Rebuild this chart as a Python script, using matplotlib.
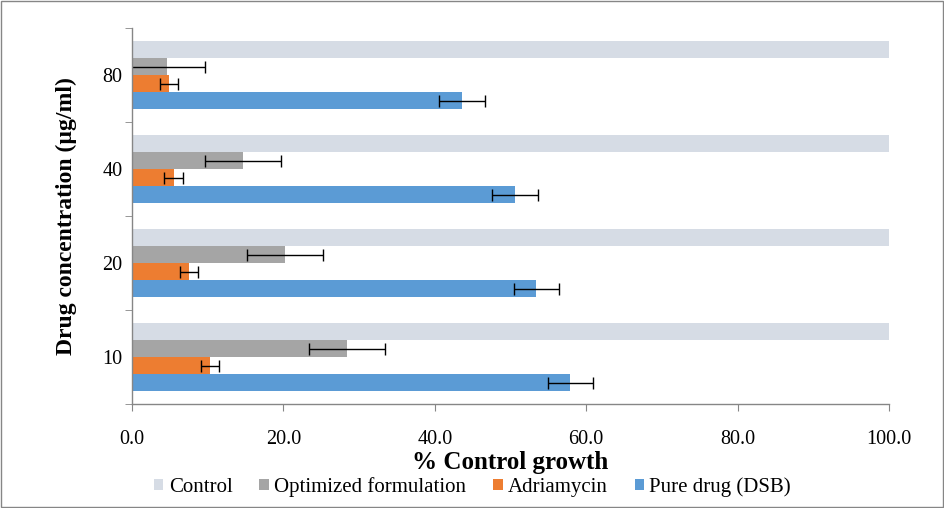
import matplotlib
matplotlib.use("Agg")
import matplotlib.pyplot as plt
import numpy as np
from matplotlib.patches import Rectangle

categories = ["10", "20", "40", "80"]
control = [100.0, 100.0, 100.0, 100.0]
optimized = [28.4, 20.2, 14.7, 4.6]
optimized_err = [5.0, 5.0, 5.0, 5.1]
adriamycin = [10.3, 7.5, 5.5, 4.9]
adriamycin_err = [1.2, 1.2, 1.25, 1.2]
pure = [57.9, 53.4, 50.6, 43.6]
pure_err = [3.0, 3.0, 3.0, 3.0]
xticks = [0, 20, 40, 60, 80, 100]

plt.rcParams['font.family'] = ['Liberation Serif', 'DejaVu Serif']

fig = plt.figure(figsize=(9.45, 5.08), dpi=100)
ax = fig.add_axes([0.1397, 0.2047, 0.801, 0.740])

y = np.arange(len(categories))
h = 0.181
err_kw = dict(ecolor='black', elinewidth=1.0, capsize=4, capthick=1.0)
ax.barh(y - 1.5*h, pure, h, xerr=pure_err, color='#5B9BD5', label='Pure drug (DSB)', error_kw=err_kw)
ax.barh(y - 0.5*h, adriamycin, h, xerr=adriamycin_err, color='#ED7D31', label='Adriamycin', error_kw=err_kw)
ax.barh(y + 0.5*h, optimized, h, xerr=optimized_err, color='#A5A5A5', label='Optimized formulation', error_kw=err_kw)
ax.barh(y + 1.5*h, control, h, color='#D6DCE5', label='Control')

ax.set_xlim(0, 100)
ax.set_ylim(-0.5, len(categories) - 0.5)
ax.set_xticks(xticks)
ax.set_xticklabels([f"{v:.1f}" for v in xticks], fontsize=14.5)
ax.set_yticks(y)
ax.set_yticklabels(categories, fontsize=14.5)
ax.set_yticks(np.arange(-0.5, len(categories), 1.0), minor=True)
ax.tick_params(axis='y', which='major', length=0, pad=7)
ax.tick_params(axis='y', which='minor', length=5, color='#868686', direction='out')
ax.tick_params(axis='x', which='major', length=5, color='#868686', direction='out', pad=14)
for s in ['top', 'right']:
    ax.spines[s].set_visible(False)
for s in ['left', 'bottom']:
    ax.spines[s].set_color('#868686')
    ax.spines[s].set_linewidth(1.0)

ax.set_xlabel('% Control growth', fontsize=18, fontweight='bold', va='top')
ax.xaxis.set_label_coords(0.5, -0.126)
ax.set_ylabel('Drug concentration (µg/ml)', fontsize=17, fontweight='bold')
ax.yaxis.set_label_coords(-0.0727, 0.5)

handles, labels = ax.get_legend_handles_labels()
order = [3, 2, 1, 0]
fig.legend([handles[i] for i in order], [labels[i] for i in order],
           loc='center', bbox_to_anchor=(0.5, 0.041), ncol=4, frameon=False,
           fontsize=15, handlelength=0.45, handleheight=0.45, handletextpad=0.25,
           columnspacing=1.3, borderaxespad=0, borderpad=0)

fig.patches.append(Rectangle((0.001, 0.001), 0.997, 0.997, transform=fig.transFigure,
                             fill=False, edgecolor='#868686', linewidth=1.0))

fig.savefig('out.png', dpi=100)
